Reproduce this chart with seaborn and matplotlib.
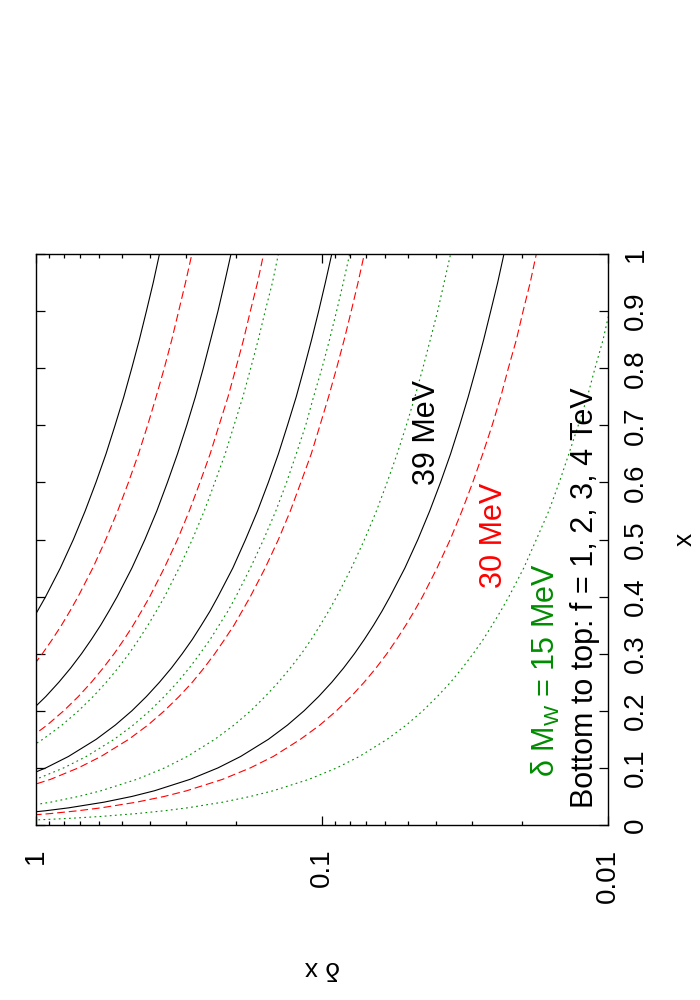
import numpy as np
import pandas as pd
import matplotlib
matplotlib.use("Agg")
import matplotlib.pyplot as plt
from matplotlib.ticker import LogLocator, NullFormatter, NullLocator
import seaborn as sns

# --- values ---
nan = np.nan
x_grid = [0.008, 0.01, 0.012, 0.015, 0.02, 0.025, 0.03, 0.04, 0.05, 0.06, 0.08, 0.1,
          0.12, 0.15, 0.175, 0.2, 0.225, 0.25, 0.275, 0.3, 0.325, 0.35, 0.375, 0.4,
          0.45, 0.5, 0.55, 0.6, 0.65, 0.7, 0.75, 0.8, 0.85, 0.9, 0.95, 1.0]

# delta x for dMW = 39 MeV (black, solid), f = 1..4 TeV
dx_39_f1 = [nan]*3 + [1.54, 1.155, 0.924, 0.77, 0.578, 0.462, 0.385, 0.289, 0.231, 0.1925,
                      0.154, 0.132, 0.1155, 0.1027, 0.0924, 0.084, 0.077, 0.0711, 0.066, 0.0616,
                      0.0578, 0.0513, 0.0462, 0.042, 0.0385, 0.0355, 0.033, 0.0308, 0.0289, 0.0272,
                      0.0257, 0.0243, 0.0231]
dx_39_f2 = [nan]*10 + [1.155, 0.924, 0.77, 0.616, 0.528, 0.462, 0.411, 0.37, 0.336, 0.308,
                       0.284, 0.264, 0.246, 0.231, 0.205, 0.185, 0.168, 0.154, 0.142, 0.132,
                       0.123, 0.1155, 0.1087, 0.1027, 0.0973, 0.0924]
dx_39_f3 = [nan]*13 + [1.387, 1.189, 1.04, 0.924, 0.832, 0.756, 0.693, 0.64, 0.594, 0.555,
                       0.52, 0.462, 0.416, 0.378, 0.347, 0.32, 0.297, 0.277, 0.26, 0.245,
                       0.231, 0.219, 0.208]
dx_39_f4 = [nan]*19 + [1.233, 1.138, 1.057, 0.987, 0.925, 0.822, 0.74, 0.673, 0.617, 0.569,
                       0.529, 0.493, 0.4625, 0.435, 0.411, 0.389, 0.37]

# dMW = 30 MeV (red, dashed)
dx_30_f1 = [nan]*2 + [1.48, 1.187, 0.89, 0.712, 0.593, 0.445, 0.356, 0.297, 0.2225, 0.178,
                      0.148, 0.119, 0.1017, 0.089, 0.0791, 0.0712, 0.0647, 0.0593, 0.0548, 0.0509,
                      0.0475, 0.0445, 0.0396, 0.0356, 0.0324, 0.0297, 0.0274, 0.0254, 0.0237, 0.0223,
                      0.0209, 0.0198, 0.0187, 0.0178]
dx_30_f2 = [nan]*9 + [1.185, 0.889, 0.711, 0.5925, 0.474, 0.406, 0.3555, 0.316, 0.284, 0.2585,
                      0.237, 0.219, 0.203, 0.19, 0.178, 0.158, 0.142, 0.129, 0.1185, 0.109,
                      0.1016, 0.0948, 0.0889, 0.0836, 0.079, 0.0748, 0.0711]
dx_30_f3 = [nan]*12 + [1.333, 1.067, 0.914, 0.8, 0.711, 0.64, 0.582, 0.533, 0.492, 0.457,
                       0.427, 0.4, 0.356, 0.32, 0.291, 0.267, 0.246, 0.229, 0.213, 0.2,
                       0.188, 0.178, 0.168, 0.16]
dx_30_f4 = [nan]*17 + [1.14, 1.036, 0.95, 0.877, 0.814, 0.76, 0.7125, 0.633, 0.57, 0.518,
                       0.475, 0.438, 0.407, 0.38, 0.356, 0.335, 0.317, 0.3, 0.285]

# dMW = 15 MeV (green, dotted)
dx_15_f1 = [1.11, 0.888, 0.74, 0.592, 0.444, 0.355, 0.296, 0.222, 0.178, 0.148,
            0.111, 0.0888, 0.074, 0.0592, 0.0507, 0.0444, 0.0395, 0.0355, 0.0323, 0.0296,
            0.0273, 0.0254, 0.0237, 0.0222, 0.0197, 0.0178, 0.0161, 0.0148, 0.0137, 0.0127,
            0.0118, 0.0111, 0.0104, 0.00987, 0.00935, 0.00888]
dx_15_f2 = [nan]*6 + [1.183, 0.888, 0.71, 0.592, 0.444, 0.355, 0.296, 0.237, 0.203, 0.1775,
                      0.158, 0.142, 0.129, 0.118, 0.109, 0.1014, 0.0947, 0.0888, 0.0789, 0.071,
                      0.0645, 0.0592, 0.0546, 0.0507, 0.0473, 0.0444, 0.0418, 0.0394, 0.0374, 0.0355]
dx_15_f3 = [nan]*9 + [1.333, 1.0, 0.8, 0.667, 0.533, 0.457, 0.4, 0.356, 0.32, 0.291,
                      0.267, 0.246, 0.229, 0.213, 0.2, 0.178, 0.16, 0.145, 0.133, 0.123,
                      0.114, 0.107, 0.1, 0.0941, 0.0889, 0.0842, 0.08]
dx_15_f4 = [nan]*12 + [1.183, 0.947, 0.811, 0.71, 0.631, 0.568, 0.516, 0.473, 0.437, 0.406,
                       0.379, 0.355, 0.316, 0.284, 0.258, 0.237, 0.218, 0.203, 0.189, 0.1775,
                       0.167, 0.158, 0.149, 0.142]

f_values = [1, 2, 3, 4]
dmw_names = ["39 MeV", "30 MeV", "15 MeV"]
curves = {
    "39 MeV": [dx_39_f1, dx_39_f2, dx_39_f3, dx_39_f4],
    "30 MeV": [dx_30_f1, dx_30_f2, dx_30_f3, dx_30_f4],
    "15 MeV": [dx_15_f1, dx_15_f2, dx_15_f3, dx_15_f4],
}

dx_ticks = [1, 0.1, 0.01]
dx_tick_labels = ["1", "0.1", "0.01"]
x_ticks = [0, 0.1, 0.2, 0.3, 0.4, 0.5, 0.6, 0.7, 0.8, 0.9, 1.0]
x_tick_labels = ["0", "0.1", "0.2", "0.3", "0.4", "0.5", "0.6", "0.7", "0.8", "0.9", "1"]

# long-form table for seaborn
rows = []
for name in dmw_names:
    for f, vals in zip(f_values, curves[name]):
        assert len(vals) == len(x_grid), (name, f, len(vals))
        for xv, dv in zip(x_grid, vals):
            rows.append({"x": xv, "dx": dv, "f": f, "dMW": name})
df = pd.DataFrame(rows).dropna()

# --- style ---
sns.set_style("ticks")
plt.rcParams.update({
    "font.family": ["Liberation Sans", "DejaVu Sans"],
    "mathtext.fontset": "custom",
    "mathtext.rm": "Liberation Sans",
    "axes.linewidth": 1.0,
    "axes.edgecolor": "black",
    "axes.labelcolor": "black",
    "text.color": "black",
    "xtick.color": "black",
    "ytick.color": "black",
})

RED = "#ff0000"
GREEN = "#008c00"
palette = {"39 MeV": "black", "30 MeV": RED, "15 MeV": GREEN}
dashes = {"39 MeV": "", "30 MeV": (7, 3.5), "15 MeV": (1.6, 3.0)}

fig = plt.figure(figsize=(7, 10), dpi=100)
ax = fig.add_axes([0.0514, 0.175, 0.8171, 0.571])
ax.set_xscale("log")

sns.lineplot(data=df, x="dx", y="x", hue="dMW", style="dMW", units="f",
             estimator=None, sort=False, palette=palette, dashes=dashes,
             linewidth=0.8, legend=False, ax=ax)

ax.set_xlim(1, 0.01)
ax.set_ylim(0, 1)
ax.set_xticks(dx_ticks)
ax.set_xticklabels(dx_tick_labels)
ax.xaxis.set_minor_locator(LogLocator(base=10, subs=np.arange(2, 10)))
ax.xaxis.set_minor_formatter(NullFormatter())
ax.set_yticks(x_ticks)
ax.set_yticklabels(x_tick_labels)
ax.yaxis.set_minor_locator(NullLocator())

ax.tick_params(which="both", direction="in", top=True, bottom=True, left=True, right=True,
               width=0.9, labelsize=20)
ax.tick_params(which="major", length=6.5)
ax.tick_params(which="minor", length=3.2)
ax.tick_params(axis="x", labelrotation=90, pad=17)
ax.tick_params(axis="y", labelleft=False, labelright=True, labelrotation=90, pad=11)
for lbl in ax.get_yticklabels():
    lbl.set_verticalalignment("center")

ax.set_xlabel("δ x", rotation=180, fontsize=19, labelpad=38)
ax.yaxis.set_label_position("right")
ax.set_ylabel("x", rotation=90, fontsize=19, labelpad=17)

# curve annotations
ax.text(0.0430, 0.688, "39 MeV", rotation=90, ha="center", va="center", fontsize=22, color="black")
ax.text(0.0251, 0.508, "30 MeV", rotation=90, ha="center", va="center", fontsize=22, color=RED)
ax.text(0.0165, 0.271, r"δ M$_\mathrm{W}$ = 15 MeV", rotation=90, ha="center", va="center",
        fontsize=22, color=GREEN)
ax.text(0.0120, 0.398, "Bottom to top: f = 1, 2, 3, 4 TeV", rotation=90, ha="center", va="center",
        fontsize=22, color="black")

fig.savefig("out.png", dpi=100)
